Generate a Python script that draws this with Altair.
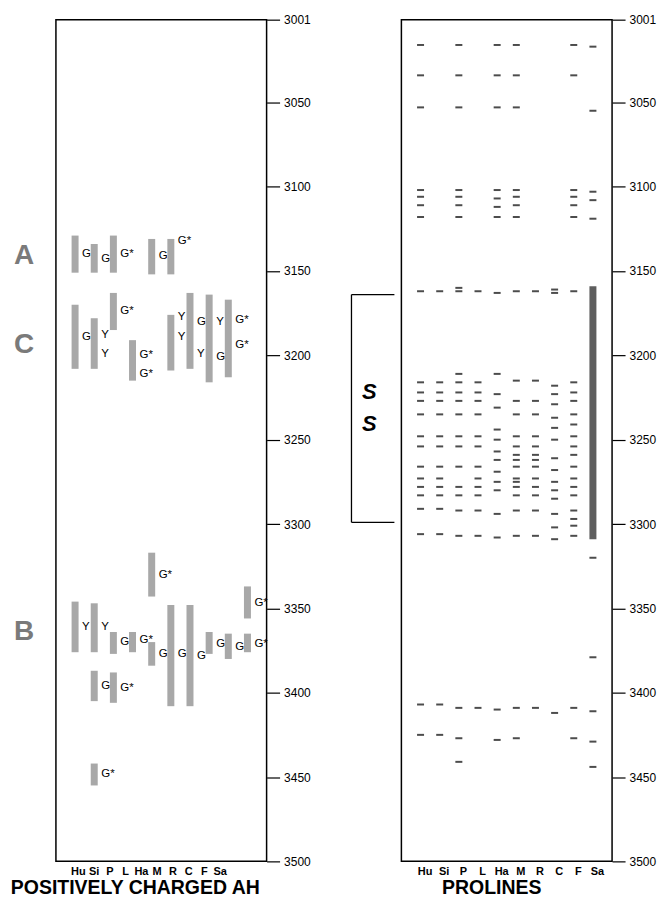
import altair as alt
import pandas as pd

FONT = "Liberation Sans"

categories = ["Hu", "Si", "P", "L", "Ha", "M", "R", "C", "F", "Sa"]
y_ticks = [3001, 3050, 3100, 3150, 3200, 3250, 3300, 3350, 3400, 3450, 3500]

# ---- Left panel: positively charged amphipathic helices (gray bars) ----
ah_cat = ["Hu", "Si", "P", "Ha", "M",
          "Hu", "Si", "P", "L", "M", "R", "C", "F",
          "Ha", "Sa", "Hu", "Si", "P", "L", "Ha", "M", "R", "C", "F", "Sa",
          "Si", "P", "Si"]
ah_start = [3129, 3134, 3129, 3131, 3131,
            3170, 3178, 3163, 3191, 3176, 3163, 3164, 3167,
            3317, 3337, 3346, 3347, 3364, 3364, 3370, 3348, 3348, 3364, 3365, 3365,
            3387, 3388, 3442]
ah_end = [3151, 3151, 3151, 3152, 3152,
          3208, 3208, 3185, 3215, 3209, 3208, 3216, 3213,
          3343, 3356, 3376, 3376, 3377, 3376, 3384, 3408, 3408, 3377, 3380, 3376,
          3405, 3406, 3455]

# residue labels next to bars
lab_cat = ["Hu", "Si", "P", "Ha", "M",
           "Hu", "Si", "Si", "P", "L", "L", "M", "M", "R", "R", "C", "C", "F", "F",
           "Ha", "Sa", "Hu", "Si", "P", "L", "Ha", "M", "R", "C", "F", "Sa",
           "Si", "P", "Si"]
lab_pos = [3140, 3143, 3140, 3141, 3132,
           3189, 3188, 3199, 3174, 3200, 3211, 3177, 3189, 3180, 3199, 3180, 3201, 3179, 3194,
           3330, 3347, 3361, 3361, 3370, 3369, 3377, 3377, 3378, 3371, 3373, 3371,
           3396, 3397, 3448]
lab_text = ["G", "G", "G*", "G", "G*",
            "G", "Y", "Y", "G*", "G*", "G*", "Y", "Y", "G", "Y", "Y", "G", "G*", "G*",
            "G*", "G*", "Y", "Y", "G", "G*", "G", "G", "G", "G", "G", "G*",
            "G", "G*", "G*"]

group_names = ["A", "C", "B"]
group_pos = [3141, 3194, 3364]

# ---- Right panel: prolines ----
prolines = {
    "Hu": [3016, 3034, 3053, 3102, 3106, 3111, 3118, 3162, 3216, 3222, 3227, 3235, 3248,
           3254, 3266, 3273, 3278, 3283, 3291, 3306, 3407, 3425],
    "Si": [3162, 3216, 3222, 3227, 3235, 3248, 3254, 3266, 3273, 3278, 3283, 3291, 3306,
           3407, 3425],
    "P": [3016, 3034, 3053, 3102, 3106, 3111, 3118, 3160, 3162, 3211, 3216, 3222, 3227,
          3235, 3248, 3254, 3266, 3278, 3283, 3292, 3307, 3409, 3427, 3441],
    "L": [3162, 3216, 3222, 3227, 3235, 3248, 3254, 3266, 3273, 3278, 3283, 3292, 3307,
          3409],
    "Ha": [3016, 3034, 3053, 3102, 3107, 3112, 3118, 3163, 3211, 3223, 3231, 3244, 3250,
           3257, 3262, 3269, 3275, 3280, 3294, 3308, 3410, 3428],
    "M": [3016, 3034, 3053, 3102, 3106, 3111, 3118, 3162, 3215, 3227, 3235, 3248, 3254,
          3259, 3262, 3266, 3273, 3275, 3278, 3283, 3292, 3307, 3409, 3427],
    "R": [3162, 3215, 3227, 3235, 3248, 3254, 3259, 3262, 3266, 3273, 3278, 3283, 3292,
          3307, 3409],
    "C": [3161, 3163, 3218, 3223, 3229, 3237, 3243, 3250, 3261, 3268, 3275, 3280, 3285,
          3294, 3302, 3309, 3412],
    "F": [3016, 3034, 3102, 3106, 3111, 3118, 3162, 3216, 3222, 3227, 3235, 3241, 3248,
          3254, 3259, 3266, 3273, 3278, 3283, 3292, 3297, 3301, 3307, 3409, 3427],
    "Sa": [3017, 3055, 3103, 3108, 3119, 3320, 3379, 3411, 3429, 3444],
}
sa_bar_cat = ["Sa"]
sa_bar_start = [3159]
sa_bar_end = [3309]

ss_start = [3164]
ss_end = [3299]
ss_letters = ["S", "S"]
ss_letter_pos = [3222, 3241]

# ---------------- tables ----------------
ah_df = pd.DataFrame({"cat": ah_cat, "start": ah_start, "end": ah_end})
lab_df = pd.DataFrame({"cat": lab_cat, "pos": lab_pos, "txt": lab_text})
grp_df = pd.DataFrame({"name": group_names, "pos": group_pos})
pro_df = pd.DataFrame([{"cat": c, "pos": v} for c in categories for v in prolines[c]])
sa_df = pd.DataFrame({"cat": sa_bar_cat, "start": sa_bar_start, "end": sa_bar_end})
br_df = pd.DataFrame({"start": ss_start, "end": ss_end})
arm_df = pd.DataFrame({"pos": ss_start + ss_end})
ssl_df = pd.DataFrame({"txt": ss_letters, "pos": ss_letter_pos})
cat_df = pd.DataFrame({"cat": categories})

W, H = 211, 843

yscale = alt.Scale(domain=[3001, 3500], reverse=True, nice=False, zero=False)
yaxis = alt.Axis(orient="right", values=y_ticks, format="d", tickSize=13,
                 tickColor="black", tickWidth=1.2, labelFontSize=12, labelPadding=4,
                 labelColor="black", labelFont=FONT, domain=False, grid=False, title=None)


def xpt():
    return alt.Scale(type="point", padding=1, domain=categories)


def xcat(axis=None, scale=None):
    return alt.X("cat:N", scale=scale if scale is not None else xpt(), sort=categories,
                 axis=axis)


def xaxis(title, title_x, offset=0):
    return alt.Axis(title=title, labelFont=FONT, labelFontWeight="bold", labelFontSize=11,
                    labelColor="black", labelAngle=0, labelPadding=4, labelOffset=offset,
                    domain=False, ticks=False, grid=False, titleFont=FONT,
                    titleFontSize=19.5, titleFontWeight="bold", titleColor="black",
                    titlePadding=2, titleX=title_x, titleAlign="center")


# ---------------- left panel ----------------
txt_layer = alt.Chart(lab_df).mark_text(align="left", baseline="middle", dx=7,
                                        fontSize=11.5, font=FONT, color="black").encode(
    x=xcat(), y=alt.Y("pos:Q", scale=yscale, axis=yaxis), text="txt:N")
bar_layer = alt.Chart(ah_df).mark_bar(size=7, color="#a8a8a8").encode(
    x=xcat(), y=alt.Y("start:Q", scale=yscale, axis=yaxis), y2="end:Q")
grp_layer = alt.Chart(grp_df).mark_text(fontSize=28, fontWeight="bold", font=FONT,
                                        color="#7a7a7a", baseline="middle").encode(
    x=alt.value(-32), y=alt.Y("pos:Q", scale=yscale, axis=yaxis), text="name:N")
# axis labels of the left panel sit closer together than the bars (as in the original)
lbl_layer = alt.Chart(cat_df).mark_point(opacity=0).encode(
    x=xcat(axis=xaxis("POSITIVELY CHARGED AH", 79),
           scale=alt.Scale(type="point", range=[22, 164], padding=0, domain=categories)),
    y=alt.value(0))

left = alt.layer(txt_layer, bar_layer, grp_layer, lbl_layer).resolve_scale(
    x="independent").properties(width=W, height=H)

# ---------------- right panel ----------------
pro_axis = xaxis("PROLINES", 90, offset=4)
tick_layer = alt.Chart(pro_df).mark_tick(size=7, thickness=2, color="black").encode(
    x=xcat(axis=pro_axis), y=alt.Y("pos:Q", scale=yscale, axis=yaxis))
sa_layer = alt.Chart(sa_df).mark_bar(size=7, color="#5e5e5e").encode(
    x=xcat(axis=pro_axis), y=alt.Y("start:Q", scale=yscale, axis=yaxis), y2="end:Q")
br_layer = alt.Chart(br_df).mark_rule(color="black", strokeWidth=1.3).encode(
    x=alt.value(-50), y=alt.Y("start:Q", scale=yscale, axis=yaxis), y2="end:Q")
arm_layer = alt.Chart(arm_df).mark_rule(color="black", strokeWidth=1.3).encode(
    x=alt.value(-50), x2=alt.value(-7), y=alt.Y("pos:Q", scale=yscale, axis=yaxis))
ssl_layer = alt.Chart(ssl_df).mark_text(fontSize=22, fontWeight="bold", fontStyle="italic",
                                        font=FONT, color="black", baseline="middle").encode(
    x=alt.value(-32), y=alt.Y("pos:Q", scale=yscale, axis=yaxis), text="txt:N")

right = alt.layer(tick_layer, sa_layer, br_layer, arm_layer, ssl_layer).properties(
    width=W, height=H)

chart = alt.hconcat(left, right, spacing=135, bounds="flush").properties(
    padding={"left": 0, "top": 4, "right": 0, "bottom": 0}
).configure_view(stroke="black", strokeWidth=1.5)

chart.save("out.html", embed_options={"renderer": "svg", "actions": False})
